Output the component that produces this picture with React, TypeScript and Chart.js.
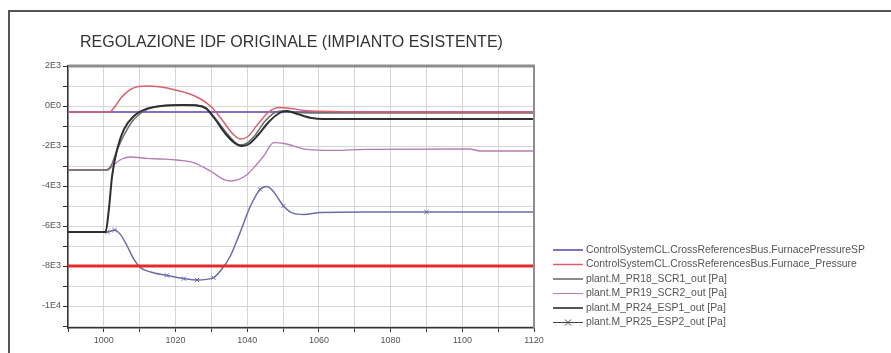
import React, { useEffect, useRef } from "react";
import { Chart, registerables } from "chart.js";

Chart.register(...registerables);

const TITLE = "REGOLAZIONE IDF ORIGINALE (IMPIANTO ESISTENTE)";

const X_MIN = 990;
const X_MAX = 1120;
const Y_MIN = -11100;
const Y_MAX = 2000;

const xGridValues = [990, 1000, 1010, 1020, 1030, 1040, 1050, 1060, 1070, 1080, 1090, 1100, 1110, 1120];
const xTickLabels = ["1000", "1020", "1040", "1060", "1080", "1100", "1120"];
const yGridValues = [2000, 1000, 0, -1000, -2000, -3000, -4000, -5000, -6000, -7000, -8000, -9000, -10000, -11000];
const yTickValues = [2000, 0, -2000, -4000, -6000, -8000, -10000];
const yTickLabels = ["2E3", "0E0", "-2E3", "-4E3", "-6E3", "-8E3", "-1E4"];

const legendLabels = [
  "ControlSystemCL.CrossReferencesBus.FurnacePressureSP",
  "ControlSystemCL.CrossReferencesBus.Furnace_Pressure",
  "plant.M_PR18_SCR1_out [Pa]",
  "plant.M_PR19_SCR2_out [Pa]",
  "plant.M_PR24_ESP1_out [Pa]",
  "plant.M_PR25_ESP2_out [Pa]",
];

// FurnacePressureSP
const spX = [990, 1120];
const spY = [-300, -300];

// Furnace_Pressure
const fpX = [990, 1001.5, 1003, 1005, 1008, 1012, 1016, 1020, 1024, 1027, 1030, 1033, 1036, 1038, 1040, 1043, 1046, 1049, 1052, 1056, 1060, 1075, 1120];
const fpY = [-300, -300, -50, 450, 880, 1000, 950, 800, 600, 350, -50, -700, -1400, -1650, -1550, -900, -300, -80, -120, -220, -260, -300, -300];

// PR18_SCR1
const scr1X = [990, 1000.7, 1002, 1003.5, 1005.5, 1008, 1010, 1012, 1015, 1018, 1022, 1026, 1028.5, 1031, 1034, 1036.5, 1038, 1040, 1042, 1045, 1048, 1050, 1054, 1060, 1120];
const scr1Y = [-3200, -3200, -3000, -2300, -1500, -750, -400, -180, -30, 30, 60, 40, -100, -600, -1300, -1800, -1950, -1850, -1500, -750, -300, -250, -330, -350, -350];

// PR19_SCR2
const scr2X = [990, 1001, 1003, 1005, 1007.5, 1012, 1016, 1020.4, 1025, 1029.7, 1033.4, 1035.3, 1037.5, 1040, 1042.5, 1044.6, 1047.4, 1051, 1056.6, 1064, 1073, 1102, 1105, 1120];
const scr2Y = [-3200, -3200, -2900, -2650, -2550, -2620, -2650, -2700, -2830, -3250, -3670, -3750, -3680, -3420, -2950, -2500, -1830, -1900, -2170, -2220, -2170, -2150, -2250, -2250];

// PR24_ESP1
const esp1X = [990, 1000.5, 1001.4, 1002.3, 1003.7, 1005.6, 1008.4, 1012, 1017, 1022, 1026, 1028.5, 1031, 1034, 1036.5, 1038.5, 1040.5, 1043, 1046, 1049, 1051, 1054, 1058, 1061, 1120];
const esp1Y = [-6300, -6300, -5170, -3500, -2170, -1170, -500, -130, 20, 50, 30, -120, -650, -1400, -1850, -2000, -1900, -1450, -800, -350, -250, -400, -600, -650, -650];

// PR25_ESP2
const esp2X = [990, 1001, 1003, 1004.6, 1006.5, 1008.4, 1010.2, 1013, 1017.6, 1022.3, 1026, 1030.6, 1032.5, 1035.3, 1038, 1040.9, 1043.6, 1045.5, 1047.4, 1050.1, 1052.9, 1055.7, 1060.4, 1073, 1090, 1120];
const esp2Y = [-6300, -6300, -6200, -6420, -7000, -7670, -8080, -8300, -8470, -8630, -8700, -8580, -8250, -7500, -6330, -5000, -4170, -4030, -4300, -5000, -5370, -5420, -5330, -5300, -5300, -5300];
const esp2MarkerX = [1001, 1003, 1017.6, 1022.3, 1026, 1030.6, 1043.6, 1050.1, 1090];

// threshold line
const limX = [990, 1120];
const limY = [-8000, -8000];

const pts = (xs: number[], ys: number[]) => xs.map((x, i) => ({ x, y: ys[i] }));

const COLORS = {
  sp: "#8170c4",
  fp: "#dc5f6c",
  scr1: "#6c6c6c",
  scr2: "#b57cb3",
  esp1: "#2f2f2f",
  esp2: "#6b6ba8",
  lim: "#e62a2a",
};
const legendColors = [COLORS.sp, COLORS.fp, "#8a8a8a", COLORS.scr2, "#555555", "#444444"];
const legendWidths = [2, 1.5, 2, 1, 2, 1];

const FONT = '"Liberation Sans", Arial, sans-serif';

const decorPlugin = {
  id: "decor",
  afterDraw(chart: any) {
    const ctx = chart.ctx;
    const a = chart.chartArea;
    ctx.save();
    // outer frame
    ctx.strokeStyle = "#555555";
    ctx.lineWidth = 2;
    ctx.beginPath();
    ctx.moveTo(8, 11);
    ctx.lineTo(891, 11);
    ctx.moveTo(9, 11);
    ctx.lineTo(9, 353);
    ctx.stroke();
    // top/right plot box
    ctx.strokeStyle = "#8e8e8e";
    ctx.lineWidth = 3;
    ctx.beginPath();
    ctx.moveTo(a.left, a.top);
    ctx.lineTo(a.right + 1, a.top);
    ctx.stroke();
    ctx.lineWidth = 2;
    ctx.beginPath();
    ctx.moveTo(a.right, a.top);
    ctx.lineTo(a.right, a.bottom);
    ctx.stroke();
    // title
    ctx.fillStyle = "#333333";
    ctx.font = `16px ${FONT}`;
    ctx.textBaseline = "middle";
    ctx.textAlign = "left";
    ctx.fillText(TITLE, 80, 43);
    // legend
    ctx.font = `10.4px ${FONT}`;
    ctx.fillStyle = "#555555";
    legendLabels.forEach((lab, i) => {
      const y = 250 + i * 14.5;
      ctx.strokeStyle = legendColors[i];
      ctx.lineWidth = legendWidths[i];
      ctx.beginPath();
      ctx.moveTo(553, y);
      ctx.lineTo(583, y);
      ctx.stroke();
      if (i === 5) {
        ctx.lineWidth = 1;
        ctx.beginPath();
        ctx.moveTo(565, y - 3);
        ctx.lineTo(571, y + 3);
        ctx.moveTo(571, y - 3);
        ctx.lineTo(565, y + 3);
        ctx.stroke();
      }
      ctx.fillText(lab, 586, y);
    });
    ctx.restore();
  },
};

export default function App() {
  const ref = useRef<HTMLCanvasElement>(null);
  useEffect(() => {
    if (!ref.current) return;
    const line = (data: any, color: string, width: number, order: number, extra: any = {}) => ({
      data,
      borderColor: color,
      backgroundColor: color,
      borderWidth: width,
      pointRadius: 0,
      fill: false,
      cubicInterpolationMode: "monotone",
      order,
      ...extra,
    });
    const chart = new Chart(ref.current, {
      type: "line",
      data: {
        datasets: [
          line(pts(limX, limY), COLORS.lim, 3, 0),
          line(pts(fpX, fpY), COLORS.fp, 1.5, 1),
          line(pts(esp1X, esp1Y), COLORS.esp1, 2, 2),
          line(pts(scr1X, scr1Y), COLORS.scr1, 1.5, 3),
          line(pts(scr2X, scr2Y), COLORS.scr2, 1.3, 4),
          line(pts(esp2X, esp2Y), COLORS.esp2, 1.5, 5, {
            pointStyle: "crossRot",
            pointRadius: (c: any) => (c.raw && esp2MarkerX.includes(c.raw.x) ? 3 : 0),
            pointBorderWidth: 1,
          }),
          line(pts(spX, spY), COLORS.sp, 2.2, 6),
        ],
      },
      options: {
        animation: false,
        responsive: false,
        parsing: true,
        layout: { padding: { top: 66, right: 357, left: 0, bottom: 0 } },
        plugins: { legend: { display: false }, title: { display: false }, tooltip: { enabled: false } },
        scales: {
          x: {
            type: "linear",
            min: X_MIN,
            max: X_MAX,
            afterBuildTicks: (s: any) => {
              s.ticks = xGridValues.map((v) => ({ value: v }));
            },
            afterFit: (s: any) => {
              s.height = 25;
            },
            grid: { color: "#d6d6d6", lineWidth: 1, tickLength: 4, tickColor: "#333333" },
            border: { color: "#333333", width: 1.5 },
            ticks: {
              autoSkip: false,
              maxRotation: 0,
              padding: 3,
              color: "#555555",
              font: { family: FONT, size: 9 },
              callback: (v: any) => {
                const s = String(v);
                return xTickLabels.includes(s) ? s : "";
              },
            },
          },
          y: {
            type: "linear",
            min: Y_MIN,
            max: Y_MAX,
            afterBuildTicks: (s: any) => {
              s.ticks = yGridValues.map((v) => ({ value: v }));
            },
            afterFit: (s: any) => {
              s.width = 68;
            },
            grid: { color: "#d6d6d6", lineWidth: 1, tickLength: 5, tickColor: "#333333" },
            border: { color: "#333333", width: 1.5 },
            ticks: {
              autoSkip: false,
              padding: 2,
              color: "#555555",
              font: { family: FONT, size: 9 },
              callback: (v: any) => {
                const i = yTickValues.indexOf(Number(v));
                return i >= 0 ? yTickLabels[i] : "";
              },
            },
          },
        },
      } as any,
      plugins: [decorPlugin],
    });
    return () => chart.destroy();
  }, []);
  return (
    <div style={{ position: "fixed", left: 0, top: 0, width: 891, height: 353, background: "#ffffff" }}>
      <canvas ref={ref} width={891} height={353} style={{ width: 891, height: 353, display: "block" }} />
    </div>
  );
}
